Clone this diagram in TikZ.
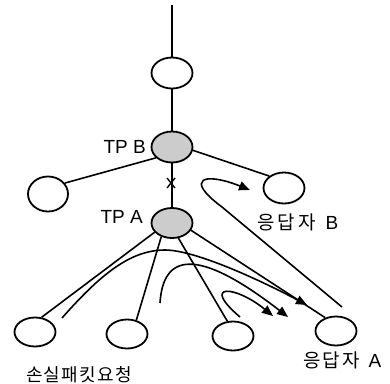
\documentclass[tikz,border=0pt]{standalone}
\usepackage{fontspec}
\setmainfont{Liberation Sans}
\newfontfamily\kr{Noto Sans CJK KR}
\newcommand\lblsize{\fontsize{19}{22}\selectfont}
\usetikzlibrary{shapes.geometric,arrows.meta}

\begin{document}
\begin{tikzpicture}[x=1pt,y=-1pt,
  host/.style={ellipse,draw,line width=1.8pt,minimum width=41pt,minimum height=31pt,inner sep=0pt},
  tp/.style={host,fill=gray!40},
  link/.style={line width=1.6pt},
  flow/.style={line width=1.6pt,-{Triangle[length=11pt,width=9pt]}},
  lbl/.style={inner sep=0pt},
  krlbl/.style={inner sep=0pt}]
\useasboundingbox (0,0) rectangle (390,383);

% hosts and transit points
\node[host] (top) at (172,73) {};
\node[tp] (tpb) at (172,147) {};
\node[host,minimum width=40pt,minimum height=35pt] (left) at (48,194) {};
\node[host] (rb) at (284,188) {};
\node[tp,minimum height=30pt] (tpa) at (172,223) {};
\node[host,minimum height=29pt] (n1) at (35,332) {};
\node[host,minimum height=29pt] (n2) at (127,334) {};
\node[host,minimum height=29pt] (n3) at (233,336) {};
\node[host,minimum height=29pt] (ra) at (336,331) {};

% labels
\node[lbl,anchor=east] (ltpb) at (146,147) {\lblsize TP B};
\node[lbl,anchor=east] (ltpa) at (143,217) {\lblsize TP A};
\node[krlbl,anchor=west] (lrb) at (257,222) {\lblsize\kr 응\kern3pt 답\kern3pt 자\kern10pt{\rmfamily B}};
\node[krlbl,anchor=west] (lra) at (303,360) {\lblsize\kr 응\kern2pt 답\kern2pt 자\kern9pt{\rmfamily A}};
\node[krlbl] (lreq) at (79,375) {\fontsize{18}{22}\selectfont\kr 손\kern1.3pt 실\kern1.3pt 패\kern1.3pt 킷\kern1.3pt 요\kern1.3pt 청};

% tree links
\coordinate (feed) at (172,5);
\draw[link] (feed) -- (top);
\draw[link] (top) -- (tpb);
\draw[link] (tpb.214) -- (left.33);
\draw[link] (tpb.351) -- (rb.141);
\draw[link] (tpb) -- (tpa);
\coordinate (cut) at (171,183);
\draw[line width=1.4pt] (cut) ++(-4,-5) -- ++(8,10) (cut) ++(4,-5) -- ++(-8,10);
\draw[link] (tpa.208) -- (n1.66);
\draw[link] (tpa.232) -- (n2.56);
\draw[link] (tpa.293) -- (n3.111);
\draw[link] (tpa.339) -- (ra.129);

% packet flows
\coordinate (f1s) at (62,318);
\coordinate (f1e) at (307,305);
\draw[flow] (f1s) .. controls (100,275) and (130,250) .. (165,250) .. controls (195,250) and (260,280) .. (f1e);
\coordinate (f2s) at (160,303);
\coordinate (f2e) at (288,317);
\draw[flow] (f2s) .. controls (163,255) and (195,245) .. (f2e);
\coordinate (f3s) at (240,317);
\coordinate (f3e) at (273,316);
\draw[flow] (f3s) .. controls (200,283) and (235,285) .. (f3e);
\coordinate (fbs) at (342,307);
\coordinate (fbe) at (250,190);
\draw[flow] (fbs) -- (222,207) .. controls (183,178) and (205,172) .. (fbe);
\end{tikzpicture}
\end{document}
